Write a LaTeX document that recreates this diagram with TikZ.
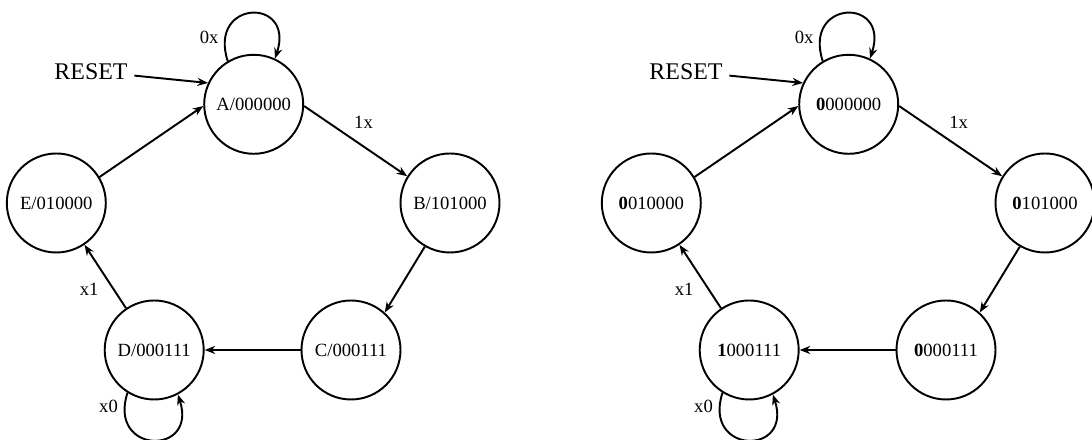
\documentclass[tikz,border=0pt]{standalone}
\usepackage{fontspec}
\setmainfont{Liberation Serif}
\usetikzlibrary{arrows.meta}

\begin{document}
\begin{tikzpicture}[x=0.2mm, y=0.2mm, line width=1.1pt, >={Stealth[length=6pt,width=4.6pt]},
    main/.style = {draw, circle, minimum size=19.8mm, inner sep=0pt},
    every node/.style = {font=\fontsize{10.6}{12.7}\selectfont},
    reset/.style = {font=\fontsize{13.6}{16}\selectfont}]
    \useasboundingbox (0,0) rectangle (1092,440);

    % left diagram
    \node[main] (1) at (253.7,335.7) {A/000000};
    \node[main] (2) at (450,237) {B/101000};
    \node[main] (3) at (351,90) {C/000111};
    \node[main] (4) at (154.2,90) {D/000111};
    \node[main] (5) at (56.3,237) {E/010000};
    \node[reset] (11) at (91,368.7) {RESET};

    \draw[->] (11) -- (1.155);
    \draw[->] (1.121) .. controls +(108:65) and +(72:65) .. (1.65) node[pos=0.15,left] {0x};
    \draw[->] (1.358) -- node[pos=0.42,above right] {1x} (2.148);
    \draw[->] (2.240) -- (3.48);
    \draw[->] (3) -- (4);
    \draw[->] (4.124) -- node[below left] {x1} (5.304);
    \draw[->] (4.238) .. controls +(252:65) and +(288:65) .. (4.298) node[pos=0.08,left] {x0};
    \draw[->] (5.31) -- (1.182);

    % right diagram
    \node[main] (6) at (848.7,335.7) {\textbf{0}000000};
    \node[main] (7) at (1045,237) {\textbf{0}101000};
    \node[main] (8) at (946,90) {\textbf{0}000111};
    \node[main] (9) at (749.2,90) {\textbf{1}000111};
    \node[main] (10) at (651.3,237) {\textbf{0}010000};
    \node[reset] (12) at (686,368.7) {RESET};

    \draw[->] (12) -- (6.155);
    \draw[->] (6.121) .. controls +(108:65) and +(72:65) .. (6.65) node[pos=0.15,left] {0x};
    \draw[->] (6.358) -- node[pos=0.42,above right] {1x} (7.148);
    \draw[->] (7.240) -- (8.48);
    \draw[->] (8) -- (9);
    \draw[->] (9.124) -- node[below left] {x1} (10.304);
    \draw[->] (9.238) .. controls +(252:65) and +(288:65) .. (9.298) node[pos=0.08,left] {x0};
    \draw[->] (10.31) -- (6.182);
\end{tikzpicture}
\end{document}
